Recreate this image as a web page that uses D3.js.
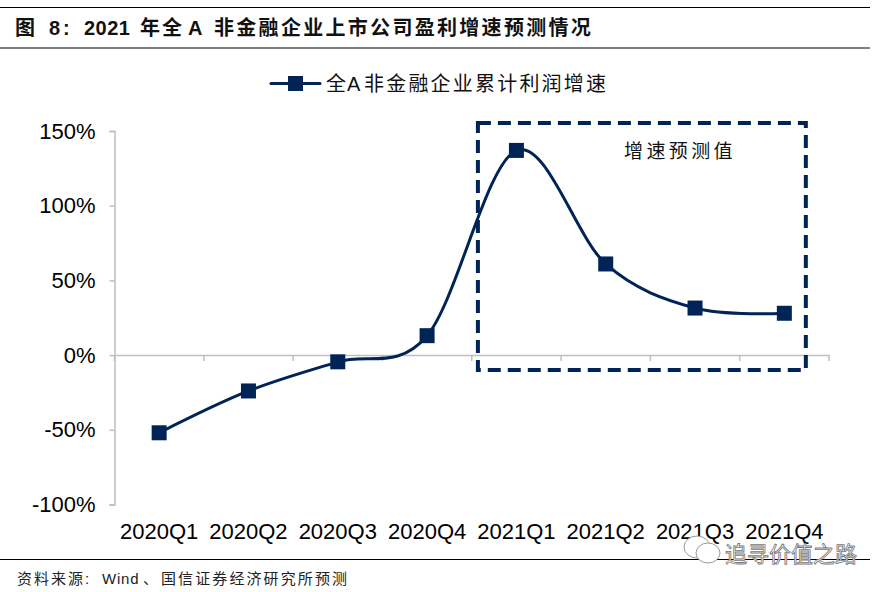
<!DOCTYPE html>
<html>
<head>
<meta charset="utf-8">
<script src="https://cdn.jsdelivr.net/npm/d3@7"></script>
<style>
  html, body { margin: 0; padding: 0; background: #fff; }
  text { font-family: "Liberation Sans", "Noto Sans CJK SC", sans-serif; }
</style>
</head>
<body>
<svg id="chart" width="885" height="592"></svg>
<script>
const quarters = ["2020Q1", "2020Q2", "2020Q3", "2020Q4", "2021Q1", "2021Q2", "2021Q3", "2021Q4"];
const growth = [-52, -24, -4.5, 13, 137, 61, 31.5, 28];
const yTicks = [-100, -50, 0, 50, 100, 150];
const forecastQuarters = ["2021Q1", "2021Q4"];

const navy = "#002455";
const svg = d3.select("#chart");

const x = d3.scaleBand().domain(quarters).range([114.5, 829]);
const y = d3.scaleLinear().domain([-100, 150]).range([504.5, 131]);
const cx = d => x(d) + x.bandwidth() / 2;

// текст зі шматків: кожен шматок зі своєю позицією і розрядкою
function pieces(yPos, size, weight, fill, parts) {
    const t = svg.append("text").attr("y", yPos)
        .attr("font-size", size).attr("font-weight", weight).attr("fill", fill);
    parts.forEach(p => {
        t.append("tspan").attr("x", p[0]).attr("letter-spacing", p[2]).text(p[1]);
    });
}

// шапка і підвал
[7.5, 48, 559.5].forEach(ruleY => {
    svg.append("line").attr("x1", 0).attr("x2", 870).attr("y1", ruleY).attr("y2", ruleY)
        .attr("stroke", "#000").attr("stroke-width", 1);
});

pieces(35, 20, "bold", "#111", [
    [15, "图", 0],
    [49, "8:", 3],
    [84, "2021", 0.5],
    [140, "年全", 2],
    [188, "A", 0],
    [214, "非金融企业上市公司盈利增速预测情况", 2.3]
]);

pieces(584, 15, "normal", "#222", [
    [17, "资料来源:", 2],
    [102, "Wind", 0.8],
    [143, "、", 0],
    [161, "国信证券经济研究所预测", 2.1]
]);

// осі
const yAxis = d3.axisLeft(y).tickValues(yTicks).tickSize(5).tickPadding(14).tickFormat(d => d + "%");
const yG = svg.append("g").attr("transform", "translate(114.5,0)").call(yAxis);
yG.select(".domain").attr("stroke", "#bfbfbf").attr("stroke-width", 1.5);
yG.selectAll("line").attr("stroke", "#bfbfbf").attr("stroke-width", 1.5);
yG.selectAll("text").attr("font-size", 22).attr("fill", "#000")
    .style("font-family", "'Liberation Sans'");

const xAxis = d3.axisBottom(x).tickValues([]).tickSize(0);
const xG = svg.append("g").attr("transform", `translate(0,${y(0)})`).call(xAxis);
xG.select(".domain").attr("stroke", "#bfbfbf").attr("stroke-width", 1.5);
xG.selectAll(".sep").data(d3.range(quarters.length + 1)).enter().append("line")
    .attr("class", "sep")
    .attr("x1", i => 114.5 + i * x.step()).attr("x2", i => 114.5 + i * x.step())
    .attr("y1", 0).attr("y2", 6)
    .attr("stroke", "#bfbfbf").attr("stroke-width", 1.5);

svg.selectAll(".qlabel").data(quarters).enter().append("text")
    .attr("class", "qlabel")
    .attr("x", cx).attr("y", 538.5)
    .attr("text-anchor", "middle").attr("font-size", 22).attr("fill", "#000")
    .text(d => d);

// лінія
const line = d3.line()
    .x((d, i) => cx(quarters[i]))
    .y(d => y(d))
    .curve(d3.curveCatmullRom.alpha(0));

svg.append("path").datum(growth)
    .attr("d", line)
    .attr("fill", "none").attr("stroke", navy).attr("stroke-width", 3).attr("stroke-linecap", "round");

svg.selectAll(".pt").data(growth).enter().append("rect")
    .attr("class", "pt")
    .attr("x", (d, i) => cx(quarters[i]) - 7.5)
    .attr("y", d => y(d) - 7.5)
    .attr("width", 15).attr("height", 15)
    .attr("fill", navy);

// рамка прогнозу
svg.append("rect")
    .attr("x", cx(forecastQuarters[0]) - 38.5).attr("y", 123)
    .attr("width", cx(forecastQuarters[1]) - cx(forecastQuarters[0]) + 60).attr("height", 247)
    .attr("fill", "none").attr("stroke", navy).attr("stroke-width", 4)
    .attr("stroke-dasharray", "13 7");

pieces(158, 19, "normal", "#111", [[624, "增速预测值", 3.4]]);

// легенда
svg.append("line").attr("x1", 271).attr("x2", 320).attr("y1", 83.5).attr("y2", 83.5)
    .attr("stroke", navy).attr("stroke-width", 3).attr("stroke-linecap", "round");
svg.append("rect").attr("x", 288).attr("y", 76).attr("width", 15).attr("height", 15).attr("fill", navy);
pieces(90.5, 20, "normal", "#111", [
    [326, "全", 0],
    [347, "A", 0],
    [364, "非金融企业累计利润增速", 2.2]
]);

// водяний знак
const mark = svg.append("g").attr("fill", "#fff").attr("stroke", "#999").attr("stroke-width", 1);
mark.append("ellipse").attr("cx", 697).attr("cy", 547).attr("rx", 13).attr("ry", 11);
mark.append("ellipse").attr("cx", 708).attr("cy", 553).attr("rx", 12).attr("ry", 10);
svg.append("text").attr("x", 725).attr("y", 562)
    .attr("font-size", 22).attr("fill", "#fff").attr("stroke", "#777").attr("stroke-width", 0.8)
    .text("追寻价值之路");
</script>
</body>
</html>
